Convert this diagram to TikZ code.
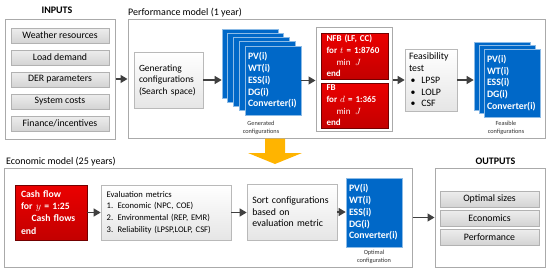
\documentclass[tikz,border=0pt]{standalone}
\usepackage{fontspec}
\setmainfont{Carlito}
\usetikzlibrary{arrows.meta}
\definecolor{cblue}{RGB}{0,104,200}
\definecolor{credt}{RGB}{235,0,0}
\definecolor{credb}{RGB}{195,0,0}
\definecolor{cgold}{RGB}{255,180,0}
\definecolor{carrow}{RGB}{64,64,64}
\definecolor{cframe}{RGB}{170,170,170}
\begin{document}
\begin{tikzpicture}[x=1pt,y=-1pt,
  frame/.style={draw=cframe, line width=1pt, fill=white, inner sep=0pt},
  bar/.style={draw=gray!60, line width=0.7pt, top color=gray!14, bottom color=gray!34,
    minimum height=15pt, inner sep=0pt, font=\fontsize{9.8pt}{11pt}\selectfont},
  gbox/.style={draw=gray!55, line width=0.7pt, top color=white, bottom color=gray!20,
    align=left, inner ysep=0pt},
  bstack/.style={draw=white!55!cblue, line width=0.6pt, fill=cblue,
    minimum width=56pt, inner sep=0pt},
  btext/.style={text=white, align=left, text width=50pt, inner xsep=3pt,
    font=\fontsize{9.8pt}{11.7pt}\selectfont\bfseries},
  rbox/.style={draw=red!45!black, line width=0.5pt, top color=credt, bottom color=credb,
    text=white, align=left, text width=56pt, inner xsep=5.5pt, inner ysep=0pt,
    font=\fontsize{9pt}{11.7pt}\selectfont\bfseries},
  arr/.style={-{Triangle[length=7pt,width=8pt]}, draw=carrow, line width=1.2pt},
  small/.style={align=center, inner sep=0pt, text=black!80,
    font=\fontsize{6.3pt}{8pt}\selectfont},
  ttl/.style={inner sep=0pt, font=\fontsize{10pt}{12pt}\selectfont}
]
\useasboundingbox (0,0) rectangle (550,274);

% ---------- INPUTS ----------
\node[ttl, font=\fontsize{10pt}{12pt}\selectfont\bfseries] (tin) at (57,10.5) {INPUTS};
\node[frame, minimum width=110pt, minimum height=120pt] (inputs) at (60,79) {};
\node[bar, minimum width=98pt] (b1) at (60,35.5) {Weather resources};
\node[bar, minimum width=98pt] (b2) at (60,57.5) {Load demand};
\node[bar, minimum width=98pt] (b3) at (60,79.5) {DER parameters};
\node[bar, minimum width=98pt] (b4) at (60,101.5) {System costs};
\node[bar, minimum width=98pt] (b5) at (60,123.5) {Finance/incentives};

% ---------- Performance model ----------
\node[ttl, anchor=west] (tperf) at (128,13) {Performance model (1 year)};
\node[frame, minimum width=417pt, minimum height=119pt] (perf) at (336.5,78.5) {};
\node[gbox, text width=59pt, inner xsep=5pt, minimum height=56pt,
  font=\fontsize{9.5pt}{11.5pt}\selectfont] (gen) at (168.5,80)
  {Generating\\configurations\\(Search space)};

\node[bstack, minimum height=69pt] (s0) at (250,63.5) {};
\node[bstack, minimum height=69pt] (s1) at (255.75,67.75) {};
\node[bstack, minimum height=69pt] (s2) at (261.5,72) {};
\node[bstack, minimum height=69pt] (s3) at (267.25,76.25) {};
\node[bstack, btext, minimum height=69pt] (s4) at (273,80.5)
  {PV(i)\\WT(i)\\ESS(i)\\DG(i)\\Converter(i)};
\node[small] (glab) at (261,128) {Generated\\configurations};

\node[frame, minimum width=76pt, minimum height=104pt] (redc) at (354,79) {};
\node[rbox, minimum height=46pt] (nfb) at (354.5,56)
  {NFB (LF, CC)\\for $t$ = 1:8760\\\hspace*{10pt}$\min\ J$\\end};
\node[rbox, minimum height=45pt] (fb) at (354.5,105.5)
  {FB\\for $d$ = 1:365\\\hspace*{10pt}$\min\ J$\\end};

\node[gbox, text width=44pt, inner xsep=4pt, minimum height=62pt,
  font=\fontsize{9.8pt}{11.7pt}\selectfont] (feas) at (431,80)
  {Feasibility\\test\\\hspace*{1.5pt}\textbullet\hspace{6pt}LPSP\\\hspace*{1.5pt}\textbullet\hspace{6pt}LOLP\\\hspace*{1.5pt}\textbullet\hspace{6pt}CSF};

\node[bstack, minimum height=68pt] (f0) at (502,76.2) {};
\node[bstack, minimum height=68pt] (f1) at (507,79.6) {};
\node[bstack, btext, minimum height=68pt] (f2) at (512,83)
  {PV(i)\\WT(i)\\ESS(i)\\DG(i)\\Converter(i)};
\node[small] (flab) at (506,127.5) {Feasible\\configurations};

% ---------- orange block arrow ----------
\fill[cgold] (265,138.5) -- (285,138.5) -- (285,153) -- (302,153) -- (275,164)
  -- (248,153) -- (265,153) -- cycle;

% ---------- Economic model ----------
\node[ttl, anchor=west] (tecon) at (6,161.5) {Economic model (25 years)};
\node[frame, minimum width=408pt, minimum height=99pt] (econ) at (208,217.5) {};
\node[rbox, text width=60pt, inner xsep=6pt, minimum height=55pt,
  font=\fontsize{9.7pt}{12.2pt}\selectfont\bfseries] (cash) at (51,212.5)
  {Cash flow\\for $y$ = 1:25\\\hspace*{10.5pt}Cash flows\\end};
\node[gbox, text width=118.6pt, inner xsep=5.7pt, minimum height=55pt,
  font=\fontsize{8.6pt}{11.7pt}\selectfont] (eval) at (166,212.5)
  {Evaluation metrics\\1. Economic (NPC, COE)\\2. Environmental (REP, EMR)\\3. Reliability (LPSP,LOLP, CSF)};
\node[gbox, text width=79.4pt, inner xsep=5.3pt, minimum height=56pt,
  font=\fontsize{9.8pt}{11.6pt}\selectfont] (sort) at (292,212)
  {Sort configurations\\based on\\evaluation metric};
\node[bstack, btext, minimum height=69pt] (opt) at (374,212.5)
  {PV(i)\\WT(i)\\ESS(i)\\DG(i)\\Converter(i)};
\node[small] (olab) at (374,256.5) {Optimal\\configuration};

% ---------- OUTPUTS ----------
\node[ttl, font=\fontsize{10pt}{12pt}\selectfont\bfseries] (tout) at (495.5,161.5) {OUTPUTS};
\node[frame, minimum width=110pt, minimum height=99pt] (outputs) at (490,217.5) {};
\node[bar, minimum width=99pt, minimum height=16pt] (o1) at (489.5,199) {Optimal sizes};
\node[bar, minimum width=99pt, minimum height=16pt] (o2) at (489.5,218) {Economics};
\node[bar, minimum width=99pt, minimum height=16pt] (o3) at (489.5,237) {Performance};

% ---------- connectors ----------
\draw[arr] (inputs.east) -- (inputs.east -| perf.west);
\draw[arr] (gen.east) -- (gen.east -| s0.west);
\draw[arr] (s4.east) -- (s4.east -| redc.west);
\draw[arr] (feas.west -| redc.east) -- (feas.west);
\draw[arr] (feas.east) -- (feas.east -| f0.west);
\draw[arr] (cash.east) -- (cash.east -| eval.west);
\draw[arr] (eval.east) -- (eval.east -| sort.west);
\draw[arr] (sort.east) -- (sort.east -| opt.west);
\draw[arr] (econ.east) -- (outputs.west);
\end{tikzpicture}
\end{document}
